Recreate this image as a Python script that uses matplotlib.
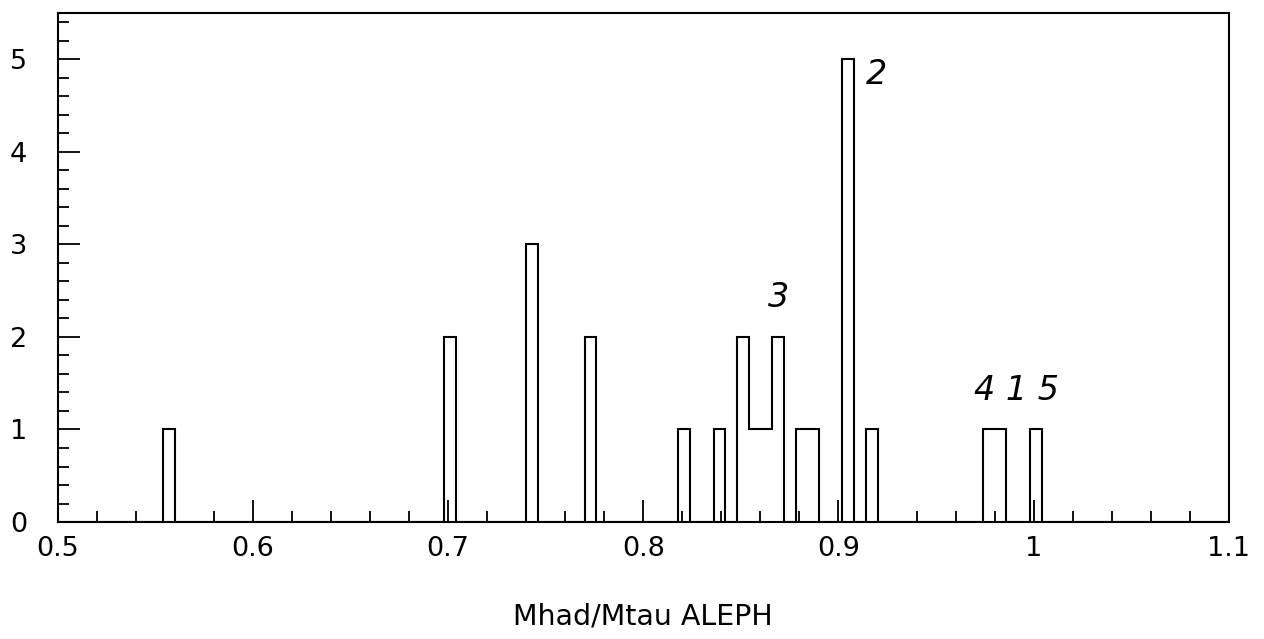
import numpy as np
import matplotlib
matplotlib.use('Agg')
import matplotlib.pyplot as plt
from matplotlib.ticker import MultipleLocator, FixedLocator, FixedFormatter

# histogram: 100 bins between 0.5 and 1.1
bin_lo, bin_hi, n_bins = 0.5, 1.1, 100
filled_centers = [0.557, 0.701, 0.743, 0.773, 0.821, 0.839, 0.851, 0.857,
                  0.863, 0.869, 0.881, 0.887, 0.905, 0.917, 0.977, 0.983, 1.001]
filled_counts = [1, 2, 3, 2, 1, 1, 2, 1, 1, 2, 1, 1, 5, 1, 1, 1, 1]

x_ticks = [0.5, 0.6, 0.7, 0.8, 0.9, 1.0, 1.1]
x_ticklabels = ['0.5', '0.6', '0.7', '0.8', '0.9', '1', '1.1']
y_ticks = [0, 1, 2, 3, 4, 5]

# hand-written marks on the plot
notes = ['2', '3', '4 1 5']
note_x = [0.9195, 0.8695, 0.991]
note_y = [4.83, 2.42, 1.42]

plt.rcParams['font.family'] = ['DejaVu Sans']

fig = plt.figure(figsize=(12.64, 6.39), dpi=100)
ax = fig.add_axes([0.0455, 0.183, 0.9268, 0.797])

edges = np.linspace(bin_lo, bin_hi, n_bins + 1)
ax.hist(filled_centers, bins=edges, weights=filled_counts, histtype='step',
        color='black', linewidth=1.5)

ax.set_xlim(bin_lo, bin_hi)
ax.set_ylim(0, 5.5)

ax.xaxis.set_major_locator(FixedLocator(x_ticks))
ax.xaxis.set_major_formatter(FixedFormatter(x_ticklabels))
ax.xaxis.set_minor_locator(MultipleLocator(0.02))
ax.yaxis.set_major_locator(FixedLocator(y_ticks))
ax.yaxis.set_minor_locator(MultipleLocator(0.2))

ax.tick_params(which='both', direction='in', top=False, right=False,
               width=1.3, labelsize=19.5, color='black')
ax.tick_params(which='major', length=16)
ax.tick_params(which='minor', length=8)
ax.tick_params(axis='x', which='major', pad=10)
ax.tick_params(axis='y', which='major', pad=22)

for sp in ax.spines.values():
    sp.set_linewidth(1.5)

ax.set_xlabel('Mhad/Mtau ALEPH', fontsize=20.5, labelpad=29)

for t, xx, yy in zip(notes, note_x, note_y):
    ax.text(xx, yy, t, fontsize=24, style='italic', ha='center', va='center')

fig.savefig('out.png', dpi=100)
